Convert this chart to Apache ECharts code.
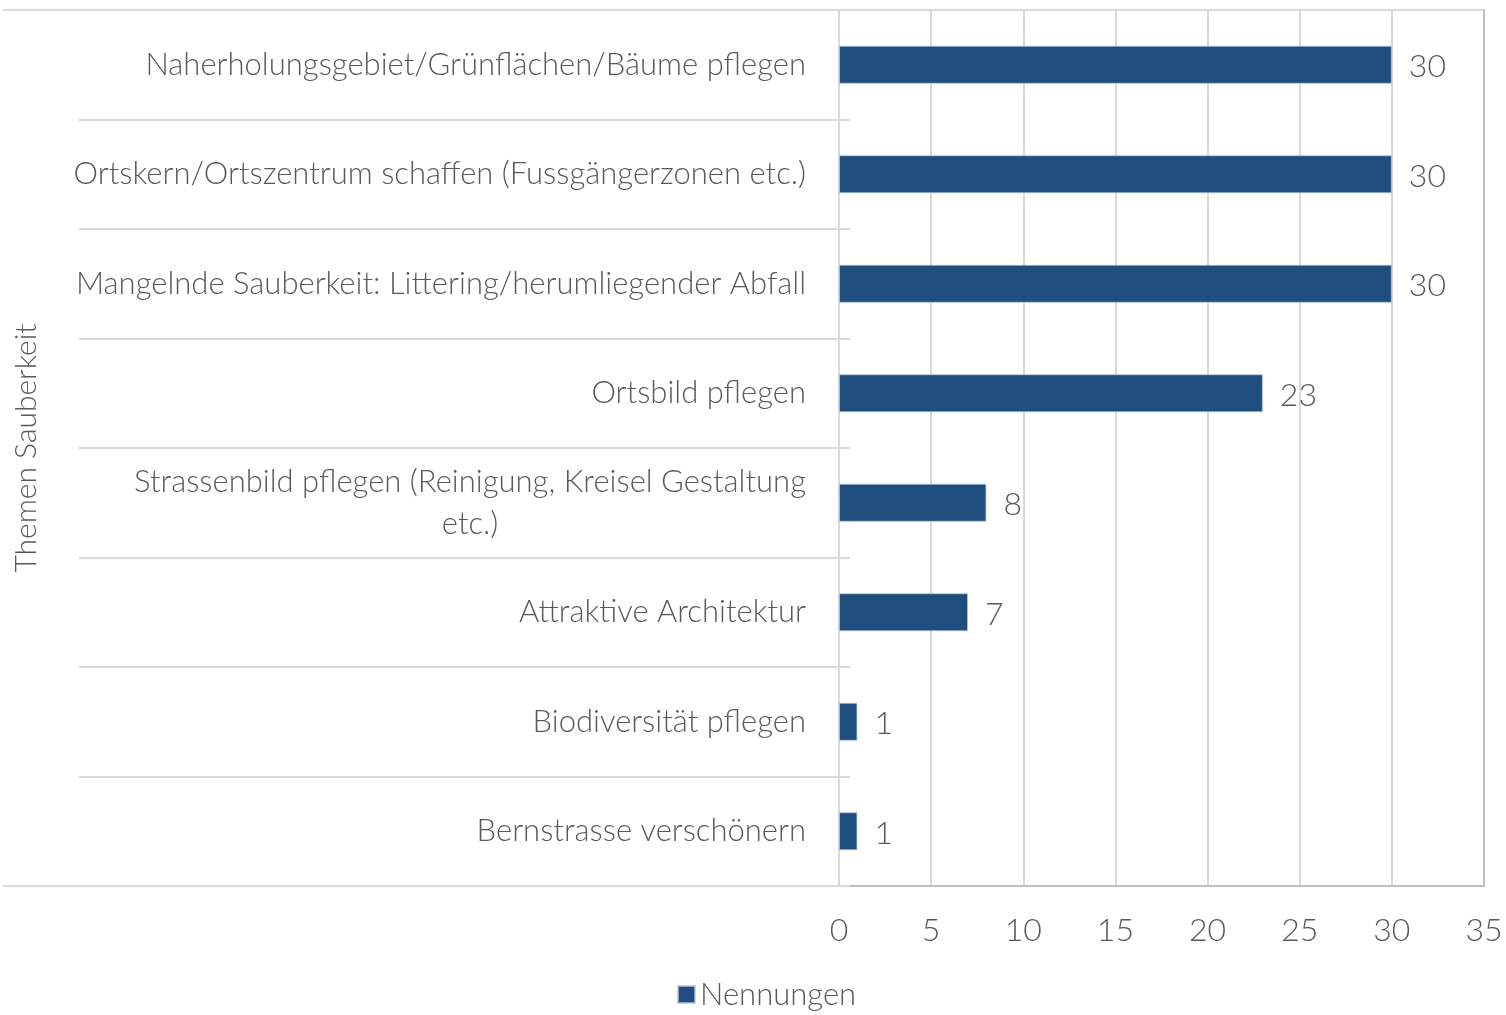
<!DOCTYPE html>
<html>
<head>
<meta charset="utf-8">
<script src="https://cdn.jsdelivr.net/npm/echarts@6/dist/echarts.min.js"></script>
<style>
html,body{margin:0;padding:0;background:#fff;}
#c{width:1506px;height:1015px;}
</style>
</head>
<body>
<div id="c"></div>
<script>
const categories = [
  'Naherholungsgebiet/Grünflächen/Bäume pflegen',
  'Ortskern/Ortszentrum schaffen (Fussgängerzonen etc.)',
  'Mangelnde Sauberkeit: Littering/herumliegender Abfall',
  'Ortsbild pflegen',
  'Strassenbild pflegen (Reinigung, Kreisel Gestaltung\netc.)',
  'Attraktive Architektur',
  'Biodiversität pflegen',
  'Bernstrasse verschönern'
];
const values = [30, 30, 30, 23, 8, 7, 1, 1];
const seriesName = 'Nennungen';
const axisTitle = 'Themen Sauberkeit';
const xTicks = [0, 5, 10, 15, 20, 25, 30, 35];

const FONT = 'Lato';
const TXT = '#595959';
const GRIDC = '#d9d9d9';
const AXC = '#bfbfbf';

const chart = echarts.init(document.getElementById('c'), null, {renderer: 'canvas'});

const option = {
  animation: false,
  backgroundColor: '#fff',
  textStyle: {fontFamily: FONT, fontWeight: 300},
  grid: {left: 839, right: 22, top: 10, bottom: 129, containLabel: false},
  legend: {
    data: [seriesName],
    top: 979, left: 677, padding: 0,
    icon: 'rect', itemWidth: 17, itemHeight: 17, itemGap: 10,
    textStyle: {fontFamily: FONT, fontWeight: 300, fontSize: 31, color: TXT, padding: [0, 0, 0, 0]}
  },
  xAxis: {
    type: 'value', min: xTicks[0], max: xTicks[xTicks.length - 1], interval: 5,
    axisLine: {show: true, lineStyle: {color: AXC, width: 2}},
    axisTick: {show: false},
    splitLine: {show: true, lineStyle: {color: GRIDC, width: 2}},
    axisLabel: {fontFamily: FONT, fontWeight: 300, fontSize: 32, color: TXT, margin: 29}
  },
  yAxis: [
    {
      type: 'category', data: categories, inverse: true, position: 'left',
      name: axisTitle, nameLocation: 'middle', nameRotate: 90, nameGap: 798,
      nameTextStyle: {fontFamily: FONT, fontWeight: 300, fontSize: 30, color: TXT},
      axisLine: {show: true, lineStyle: {color: GRIDC, width: 2}},
      axisTick: {show: true, inside: false, length: 760, lineStyle: {color: GRIDC, width: 2}},
      axisLabel: {
        margin: 33, fontFamily: FONT, fontWeight: 300, fontSize: 31, color: TXT,
        formatter: function (v) {
          return v.split('\n').map(s => '{c|' + s + '}').join('\n');
        },
        rich: {c: {align: 'center', fontFamily: FONT, fontWeight: 300, fontSize: 31, color: TXT, lineHeight: 42}}
      }
    },
    {
      type: 'category', data: categories, inverse: true, position: 'left',
      axisLine: {show: false},
      axisTick: {show: true, inside: true, length: 11, lineStyle: {color: GRIDC, width: 2}},
      axisLabel: {show: false}
    },
    {
      type: 'category', data: categories, inverse: true, position: 'right',
      axisLine: {show: true, lineStyle: {color: AXC, width: 2}},
      axisTick: {show: false},
      axisLabel: {show: false}
    }
  ],
  series: [{
    name: seriesName, type: 'bar', data: values, yAxisIndex: 0,
    barWidth: 38,
    itemStyle: {color: '#1f4e7e', borderColor: 'rgba(180,200,225,0.7)', borderWidth: 1},
    label: {
      show: true, position: 'right', distance: 17, offset: [0, 2],
      fontFamily: FONT, fontWeight: 300, fontSize: 32, color: TXT
    }
  }]
};
chart.setOption(option);

// outer top/bottom rules of the chart frame, derived from the grid rectangle
const rect = chart.getModel().getComponent('grid').coordinateSystem.getRect();
chart.setOption({
  graphic: [
    {type: 'line', shape: {x1: 3, y1: rect.y, x2: rect.x + rect.width, y2: rect.y}, style: {stroke: GRIDC, lineWidth: 2}, z: 0},
    {type: 'line', shape: {x1: 3, y1: rect.y + rect.height, x2: rect.x, y2: rect.y + rect.height}, style: {stroke: GRIDC, lineWidth: 2}, z: 0}
  ]
});
</script>
</body>
</html>
